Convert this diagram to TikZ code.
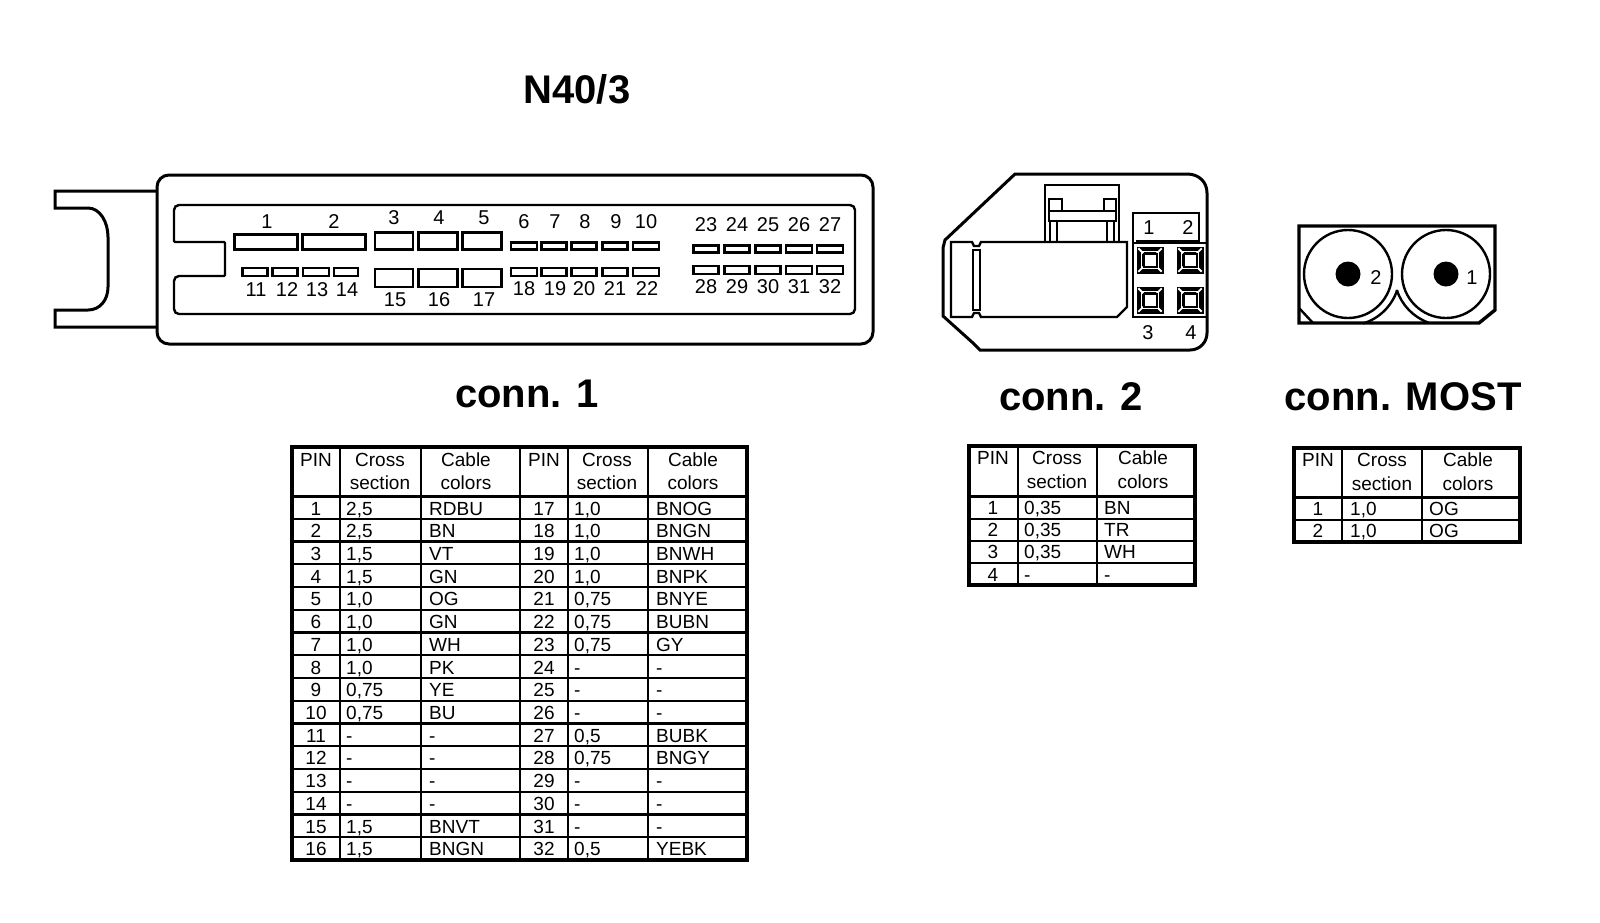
\documentclass[tikz,border=0pt]{standalone}
\usepackage{fontspec}
\setmainfont{Liberation Sans}
\usetikzlibrary{shapes.geometric}
\newcommand{\txtsize}{\fontsize{19}{19}\selectfont}
\newcommand{\labsize}{\fontsize{20}{20}\selectfont}
\newcommand{\bigsize}{\fontsize{40}{40}\selectfont\bfseries}

\begin{document}
\begin{tikzpicture}
    [
        x=1pt, y=-1pt,
        line join=miter,
        outline/.style = {draw, line width=3pt},
        thinline/.style = {draw, line width=2.4pt},
        slotbox/.style = {draw, shape=rectangle, inner sep=0pt, line width=2.6pt},
        title/.style = {inner sep=0pt, font=\bigsize},
        pinlabel/.style = {inner sep=0pt, font=\labsize},
        celltext/.style = {inner sep=0pt, anchor=base west, font=\txtsize},
        cellpin/.style = {inner sep=0pt, anchor=base, font=\txtsize},
        frame/.style = {draw, line width=3.4pt},
        pinsquare/.style = {fill=black, shape=rectangle, minimum size=27pt, inner sep=0pt},
        pincore/.style = {draw, fill=white, shape=rectangle, minimum size=13pt, inner sep=0pt, line width=2pt},
    ]

    \useasboundingbox (0,0) rectangle (1600,922);
    \fill[white] (0,0) rectangle (1600,922);

    \node[title] (maintitle) at (577,89) {N40/3};
    \node[title] (title1) at (527,394) {conn. 1};
    \node[title] (title2) at (1071,397) {conn. 2};
    \node[title] (title3) at (1403,397) {conn. MOST};

    \draw[outline, rounded corners=12pt] (157,175) rectangle (873,344);
    \draw[outline] (157,191) -- (55,191) -- (55,208) -- (88,208) .. controls (100,208) and (108,222) .. (108,237) -- (108,287) .. controls (108,300) and (100,310) .. (88,310) -- (55,310) -- (55,327) -- (157,327);
    \draw[thinline, rounded corners=5pt] (174,242) -- (174,205) -- (855,205) -- (855,314) -- (174,314) -- (174,276) [rounded corners=1pt] -- (225,276) -- (225,242) -- cycle;

    \foreach \n/\xc/\yc/\sw/\sh in {1/266/242/63/15, 2/334/242/63/15, 3/394/241/38/17, 4/438/241/39/17, 5/482/241/39/17,
        15/394/278/38/18, 16/438/278/39/18, 17/482/278/39/18,
        11/255/272/25/8, 12/285/272/25/8, 13/316/272/26/8, 14/346/272/24/8,
        6/524/246/26/7, 7/554/246/25/7, 8/584/246/25/7, 9/615/246/25/7, 10/646/246/26/7,
        18/524/272/26/8, 19/554/272/25/8, 20/584/272/25/8, 21/615/272/25/8, 22/646/272/26/8,
        23/706/249/25/7, 24/737/249/25/7, 25/768/249/25/7, 26/799/249/26/7, 27/830/249/26/7,
        28/706/270/25/8, 29/737/270/25/8, 30/768/270/25/8, 31/799/270/26/8, 32/830/270/26/8}
        \node[slotbox, minimum width=\sw, minimum height=\sh] (slot\n) at (\xc,\yc) {};

    \foreach \n/\xc/\yc in {1/267/222, 2/334/222, 3/394/218, 4/439/218, 5/484/218,
        6/524/222, 7/555/222, 8/585/222, 9/616/222, 10/646/222,
        11/256/290, 12/287/290, 13/317/290, 14/347/290,
        15/395/300, 16/439/300, 17/484/300,
        18/524/289, 19/555/289, 20/584/289, 21/615/289, 22/647/289,
        23/706/225, 24/737/225, 25/768/225, 26/799/225, 27/830/225,
        28/706/287, 29/737/287, 30/768/287, 31/799/287, 32/830/287}
        \node[pinlabel] (lab\n) at (\xc,\yc) {\n};

    \draw[outline] (1015,174) -- (1187,174) .. controls (1199,174) and (1207,182) .. (1207,193) -- (1207,333) .. controls (1207,342) and (1200,350) .. (1190,350) -- (980,350) -- (973,343) -- (943,316) -- (943,248) -- (945,240) -- cycle;
    \draw[thinline] (951,242) -- (972,242) -- (974,246) -- (979,246) -- (981,242) -- (1127,242) -- (1127,307) -- (1117,317) -- (981,317) -- (979,313) -- (974,313) -- (972,317) -- (951,317) -- cycle;
    \draw[thinline] (973,250) rectangle (980,310);
    \draw[thinline] (1045,243) -- (1045,185) -- (1119,185) -- (1119,243);
    \draw[thinline] (1049,211) rectangle (1116,221);
    \draw[thinline] (1049,211) -- (1049,199) -- (1062,199) -- (1062,211);
    \draw[thinline] (1104,211) -- (1104,199) -- (1116,199) -- (1116,211);
    \draw[thinline] (1050,221) -- (1050,243);
    \draw[thinline] (1057,221) -- (1057,243);
    \draw[thinline] (1107,221) -- (1107,243);
    \draw[thinline] (1114,221) -- (1114,243);
    \draw[thinline] (1133,243) -- (1133,213) -- (1199,213) -- (1199,243);
    \draw[thinline] (1133,243) rectangle (1207,317);
    \draw[line width=1.5pt] (1136,241) -- (1198,241);

    \foreach \n/\xc/\yc in {1/1150/260, 2/1190/260, 3/1150/300, 4/1190/300}
    {
        \node[pinsquare] (sq\n) at (\xc,\yc) {};
        \draw[white, line width=1.8pt] (sq\n.north west) ++(2,2) -- ++(5,5);
        \draw[white, line width=1.8pt] (sq\n.north east) ++(-2,2) -- ++(-5,5);
        \draw[white, line width=1.8pt] (sq\n.south west) ++(2,-2) -- ++(5,-5);
        \draw[white, line width=1.8pt] (sq\n.south east) ++(-2,-2) -- ++(-5,-5);
        \draw[white, line width=1.6pt] (\xc-8.5,\yc-8.5) rectangle (\xc+8.5,\yc+8.5);
        \node[pincore] (core\n) at (\xc,\yc) {};
    }
    \node[pinlabel] (c2lab1) at (1149,228) {1};
    \node[pinlabel] (c2lab2) at (1188,228) {2};
    \node[pinlabel] (c2lab3) at (1148,333) {3};
    \node[pinlabel] (c2lab4) at (1191,333) {4};

    \draw[outline, line width=3.4pt] (1299,226) -- (1495,226) -- (1495,310) -- (1479,323) -- (1299,323) -- cycle;
    \draw[thinline] (1299,308) -- (1313,323);
    \node[draw, circle, line width=2.4pt, minimum size=88pt, inner sep=0pt] (most2) at (1348,274) {};
    \node[draw, circle, line width=2.4pt, minimum size=88pt, inner sep=0pt] (most1) at (1446,274) {};
    \node[fill=black, circle, minimum size=25pt, inner sep=0pt] (dot2) at (1348,274) {};
    \node[fill=black, circle, minimum size=25pt, inner sep=0pt] (dot1) at (1446,274) {};
    \node[pinlabel] (mostlab2) at (1376,278) {2};
    \node[pinlabel] (mostlab1) at (1472,278) {1};
    \draw[thinline] (1348,274) ++(18:51.7) arc[start angle=18, end angle=73, radius=51.7];
    \draw[thinline] (1446,274) ++(162:51.7) arc[start angle=162, end angle=110, radius=51.7];

    \draw[frame] (292,447) rectangle (747,860);
    \foreach \xc in {340,421,520,568,648}
        \draw[thinline] (\xc,447) -- (\xc,860);
    \draw[thinline, line width=3pt] (292,496) -- (747,496);
    \foreach \r in {1,...,15}
        \draw[thinline] (292,{496+\r*22.75}) -- (747,{496+\r*22.75});

    \node[cellpin] (h1a) at (316,466) {PIN};
    \node[cellpin] (h1b) at (380,466) {Cross};
    \node[cellpin] (h1c) at (380,489) {section};
    \node[cellpin] (h1d) at (466,466) {Cable};
    \node[cellpin] (h1e) at (466,489) {colors};
    \node[cellpin] (h1f) at (544,466) {PIN};
    \node[cellpin] (h1g) at (607,466) {Cross};
    \node[cellpin] (h1h) at (607,489) {section};
    \node[cellpin] (h1i) at (693,466) {Cable};
    \node[cellpin] (h1j) at (693,489) {colors};

    \foreach \r/\pa/\sa/\ca/\pc/\sc/\cc in {1/1/{2,5}/RDBU/17/{1,0}/BNOG, 2/2/{2,5}/BN/18/{1,0}/BNGN, 3/3/{1,5}/VT/19/{1,0}/BNWH, 4/4/{1,5}/GN/20/{1,0}/BNPK,
        5/5/{1,0}/OG/21/{0,75}/BNYE, 6/6/{1,0}/GN/22/{0,75}/BUBN, 7/7/{1,0}/WH/23/{0,75}/GY, 8/8/{1,0}/PK/24/-/-,
        9/9/{0,75}/YE/25/-/-, 10/10/{0,75}/BU/26/-/-, 11/11/-/-/27/{0,5}/BUBK, 12/12/-/-/28/{0,75}/BNGY,
        13/13/-/-/29/-/-, 14/14/-/-/30/-/-, 15/15/{1,5}/BNVT/31/-/-, 16/16/{1,5}/BNGN/32/{0,5}/YEBK}
    {
        \node[cellpin] (pa\r) at (316,{515+(\r-1)*22.72}) {\pa};
        \node[celltext] (sa\r) at (346,{515+(\r-1)*22.72}) {\sa};
        \node[celltext] (ca\r) at (429,{515+(\r-1)*22.72}) {\ca};
        \node[cellpin] (pc\r) at (544,{515+(\r-1)*22.72}) {\pc};
        \node[celltext] (sc\r) at (574,{515+(\r-1)*22.72}) {\sc};
        \node[celltext] (cc\r) at (656,{515+(\r-1)*22.72}) {\cc};
    }

    \draw[frame] (969,446) rectangle (1195,585);
    \foreach \xc in {1018,1097}
        \draw[thinline] (\xc,446) -- (\xc,585);
    \draw[thinline, line width=3pt] (969,496) -- (1195,496);
    \foreach \yc in {519,541,563}
        \draw[thinline] (969,\yc) -- (1195,\yc);

    \node[cellpin] (h2a) at (993,464) {PIN};
    \node[cellpin] (h2b) at (1057,464) {Cross};
    \node[cellpin] (h2c) at (1057,488) {section};
    \node[cellpin] (h2d) at (1143,464) {Cable};
    \node[cellpin] (h2e) at (1143,488) {colors};

    \foreach \r/\yc/\sa/\ca in {1/514/{0,35}/BN, 2/536/{0,35}/TR, 3/558/{0,35}/WH, 4/581/-/-}
    {
        \node[cellpin] (p2\r) at (993,\yc) {\r};
        \node[celltext] (s2\r) at (1024,\yc) {\sa};
        \node[celltext] (c2\r) at (1104,\yc) {\ca};
    }

    \draw[frame] (1294,448) rectangle (1520,542);
    \foreach \xc in {1342,1422}
        \draw[thinline] (\xc,448) -- (\xc,542);
    \draw[thinline, line width=3pt] (1294,497) -- (1520,497);
    \draw[thinline] (1294,520) -- (1520,520);

    \node[cellpin] (h3a) at (1318,466) {PIN};
    \node[cellpin] (h3b) at (1382,466) {Cross};
    \node[cellpin] (h3c) at (1382,490) {section};
    \node[cellpin] (h3d) at (1468,466) {Cable};
    \node[cellpin] (h3e) at (1468,490) {colors};

    \foreach \r/\yc in {1/515, 2/537}
    {
        \node[cellpin] (p3\r) at (1318,\yc) {\r};
        \node[celltext] (s3\r) at (1350,\yc) {1,0};
        \node[celltext] (c3\r) at (1429,\yc) {OG};
    }
\end{tikzpicture}
\end{document}
